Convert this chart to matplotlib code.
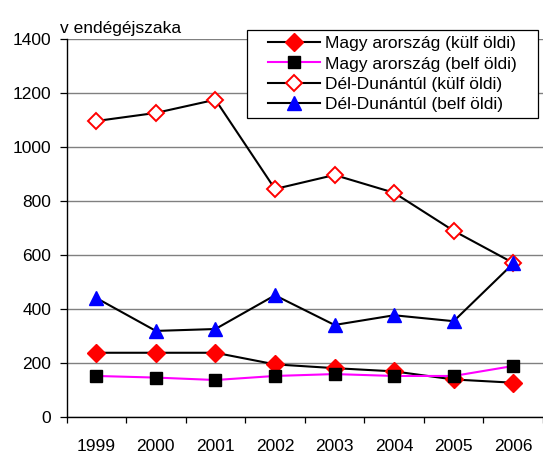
import matplotlib
matplotlib.use("Agg")
import matplotlib.pyplot as plt
from matplotlib.patches import Rectangle

plt.rcParams['font.family'] = ['Liberation Sans', 'DejaVu Sans']

years = ['1999', '2000', '2001', '2002', '2003', '2004', '2005', '2006']
hu_kulf = [237, 237, 237, 194, 180, 168, 138, 126]
hu_belf = [151, 145, 136, 151, 158, 151, 151, 188]
dd_kulf = [1096, 1126, 1175, 844, 896, 830, 689, 570]
dd_belf = [440, 318, 325, 450, 340, 376, 354, 568]
labels = ['Magy arország (külf öldi)', 'Magy arország (belf öldi)',
          'Dél-Dunántúl (külf öldi)', 'Dél-Dunántúl (belf öldi)']
y_title = 'v endégéjszaka'

W, H = 543, 453
fig = plt.figure(figsize=(W / 100, H / 100), dpi=100)
ax = fig.add_axes([66.5 / W, 1 - 416.7 / H, (W - 66.5) / W, (416.7 - 39) / H])

x = list(range(len(years)))
ax.plot(x, hu_kulf, color='black', lw=1.5, marker='D', ms=9,
        mfc='#FF0000', mec='#FF0000', label=labels[0])
ax.plot(x, hu_belf, color='#FF00FF', lw=1.5, marker='s', ms=9,
        mfc='black', mec='black', label=labels[1])
ax.plot(x, dd_kulf, color='black', lw=1.5, marker='D', ms=8.5,
        mfc='white', mec='#FF0000', mew=1.4, label=labels[2])
ax.plot(x, dd_belf, color='black', lw=1.5, marker='^', ms=10.5,
        mfc='#0000FF', mec='#0000FF', label=labels[3])

ax.set_xlim(-0.5, len(years) - 0.5)
ax.set_ylim(0, 1400)
ax.set_yticks(range(0, 1401, 200))
ax.yaxis.grid(True, color='#808080', lw=1.0)
ax.set_axisbelow(True)

ax.set_xticks([i - 0.5 for i in range(len(years) + 1)])
ax.set_xticklabels([])
ax.set_xticks(x, minor=True)
ax.set_xticklabels(years, minor=True)
ax.tick_params(axis='x', which='major', direction='out', length=4, width=0.9, color='black')
ax.tick_params(axis='x', which='minor', length=0, pad=16, labelsize=12.5)
ax.tick_params(axis='y', direction='out', length=5, width=0.9, color='black',
               pad=6, labelsize=12.5)

for s in ['top', 'right']:
    ax.spines[s].set_visible(False)
for s in ['left', 'bottom']:
    ax.spines[s].set_linewidth(1.0)
    ax.spines[s].set_color('black')

fig.text(60 / W, 1 - 33 / H, y_title, fontsize=12.5, ha='left', va='baseline')

leg = fig.legend(loc='upper left', bbox_to_anchor=(268 / W, 1 - 36 / H),
                 bbox_transform=fig.transFigure, frameon=False, fontsize=12.5,
                 handlelength=3.0, handletextpad=0.3, labelspacing=0.3,
                 borderpad=0, borderaxespad=0)
fig.add_artist(Rectangle((246.7 / W, 1 - 118.3 / H), (538.3 - 246.7) / W, (118.3 - 30) / H,
                         transform=fig.transFigure, fill=True, facecolor='white',
                         edgecolor='black', lw=0.9, zorder=2))
leg.set_zorder(3)

fig.savefig('out.png', dpi=100)
